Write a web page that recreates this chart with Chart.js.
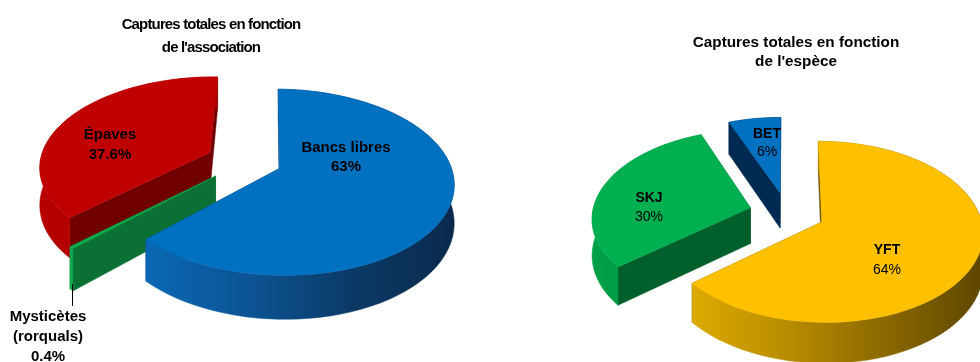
<!DOCTYPE html>
<html>
<head>
<meta charset="utf-8">
<script src="https://cdn.jsdelivr.net/npm/chart.js@4/dist/chart.umd.min.js"></script>
<style>
  html, body { margin: 0; padding: 0; background: #fff; }
  #page { position: relative; width: 980px; height: 362px; overflow: hidden; }
  canvas { position: absolute; top: 0; }
</style>
</head>
<body>
<div id="page">
  <canvas id="assoc" width="558" height="362" style="left:-68px"></canvas>
  <canvas id="espece" width="612" height="362" style="left:490px"></canvas>
</div>
<script>
// values as printed on the charts
const assocLabels = ['Bancs libres', 'Mysticètes\n(rorquals)', 'Épaves'];
const assocValues = [63, 0.4, 37.6];
const especeLabels = ['YFT', 'SKJ', 'BET'];
const especeValues = [64, 30, 6];

const assocColors = ['#0070c0', '#12a84e', '#c00000'];
const especeColors = ['#ffc000', '#00b050', '#0070c0'];

const FONT = '"Liberation Sans", Arial, sans-serif';

// fake 3D: tilt the flat pie and extrude each arc downwards
const pie3d = {
  id: 'pie3d',
  beforeDraw(chart, args, opts) {
    // the left title is set tighter than the right one
    chart.ctx.letterSpacing = opts.titleSpacing;
  },
  beforeDatasetDraw(chart, args, opts) {
    const ctx = chart.ctx;
    const arcs = chart.getDatasetMeta(0).data;
    ctx.letterSpacing = '0px';
    ctx.save();
    ctx.translate(-opts.left, 0);

    const project = (u, v, z) => {
      const s = 1 / (1 - opts.persp * v / opts.radius);
      return [opts.cx + u * s, opts.cy + opts.tilt * v * s + z * s];
    };
    const fillPoly = (pts, fill) => {
      ctx.beginPath();
      pts.forEach((p, i) => (i ? ctx.lineTo(p[0], p[1]) : ctx.moveTo(p[0], p[1])));
      ctx.closePath();
      ctx.fillStyle = fill;
      ctx.fill();
      ctx.strokeStyle = fill;
      ctx.lineWidth = 0.5;
      ctx.stroke();
    };

    opts.order.forEach((i) => {
      const arc = arcs[i];
      const {startAngle, endAngle, outerRadius} = arc.getProps(
          ['startAngle', 'endAngle', 'outerRadius'], true);
      const mid = (startAngle + endAngle) / 2;
      const ou = Math.cos(mid) * arc.options.offset;
      const ov = Math.sin(mid) * arc.options.offset;
      const rim = (a, z) => project(
          ou + Math.cos(a) * outerRadius, ov + Math.sin(a) * outerRadius, z);
      const apex = (z) => project(ou, ov, z);

      const steps = 72;
      const top = [];
      const bottom = [];
      for (let n = 0; n <= steps; n++) {
        const a = startAngle + (endAngle - startAngle) * n / steps;
        top.push(rim(a, 0));
        bottom.push(rim(a, opts.depth));
      }

      // flat side walls
      fillPoly([apex(0), apex(opts.depth), rim(endAngle, opts.depth), rim(endAngle, 0)], opts.inner[i]);
      fillPoly([apex(0), apex(opts.depth), rim(startAngle, opts.depth), rim(startAngle, 0)], opts.inner[i]);

      // curved outer wall
      const xs = top.map((p) => p[0]);
      const grad = ctx.createLinearGradient(Math.min(...xs), 0, Math.max(...xs), 0);
      opts.wall[i].forEach((c, n, all) => grad.addColorStop(n / (all.length - 1), c));
      fillPoly(top.concat(bottom.slice().reverse()), grad);

      // top face
      fillPoly([apex(0)].concat(top), arc.options.backgroundColor);
    });

    // data labels, one line per entry, then the value
    ctx.fillStyle = '#000';
    ctx.textAlign = 'center';
    ctx.textBaseline = 'middle';
    const labels = chart.data.labels;
    const values = chart.data.datasets[0].data;
    opts.spots.forEach((spot, i) => {
      const lines = labels[i].split('\n');
      lines.forEach((t, n) => {
        ctx.font = 'bold ' + spot.size + 'px ' + FONT;
        ctx.fillText(t, spot.x, spot.y + n * spot.gap);
      });
      ctx.font = spot.weight + ' ' + spot.size + 'px ' + FONT;
      ctx.fillText(values[i] + '%', spot.x, spot.y + lines.length * spot.gap);
    });
    if (opts.leader) {
      ctx.strokeStyle = '#000';
      ctx.lineWidth = 1;
      ctx.beginPath();
      ctx.moveTo(opts.leader[0], opts.leader[1]);
      ctx.lineTo(opts.leader[2], opts.leader[3]);
      ctx.stroke();
    }
    ctx.restore();
    return false;
  },
};

const makePie = (id, labels, values, colors, radius, rotation, offset, title, titleTop, titleFont, opts) => new Chart(
    document.getElementById(id),
    {
      type: 'pie',
      data: {
        labels,
        datasets: [{
          data: values,
          backgroundColor: colors,
          borderWidth: 0,
          offset,
        }],
      },
      options: {
        responsive: false,
        animation: false,
        radius,
        rotation,
        layout: {padding: 0},
        plugins: {
          legend: {display: false},
          tooltip: {enabled: false},
          title: {
            display: true,
            text: title,
            color: '#000',
            padding: {top: titleTop, bottom: 0},
            font: titleFont,
          },
          pie3d: opts,
        },
      },
      plugins: [pie3d],
    });

makePie('assoc', assocLabels, assocValues, assocColors, 170, 1.2, [36, 41, 40],
    ['Captures totales en fonction', 'de l\'association'], 13,
    {family: FONT, size: 15, weight: 'bold', lineHeight: 1.55}, {
      titleSpacing: '-0.85px',
      left: -68, cx: 246, cy: 161, tilt: 0.523, persp: 0.145, radius: 170, depth: 37,
      order: [2, 1, 0],
      inner: ['#0a3a66', '#0a7034', '#700000'],
      wall: [
        ['#0a68b4', '#0c5494', '#0b3a66', '#0a2a4c'],
        ['#12a84e', '#12a84e'],
        ['#b80000', '#a00000'],
      ],
      spots: [
        {x: 346, y: 148, gap: 19, size: 15, weight: 'bold'},
        {x: 48, y: 317, gap: 20, size: 15, weight: 'bold'},
        {x: 110, y: 135, gap: 20, size: 15, weight: 'bold'},
      ],
      leader: [72.5, 284, 72.5, 306],
    });

makePie('espece', especeLabels, especeValues, especeColors, 158, 0, 38,
    ['Captures totales en fonction', 'de l\'espèce'], 33,
    {family: FONT, size: 15.3, weight: 'bold', lineHeight: 1.25}, {
      titleSpacing: '0px',
      left: 490, cx: 787, cy: 213, tilt: 0.554, persp: 0.107, radius: 158, depth: 36,
      order: [2, 1, 0],
      inner: ['#6b5000', '#00602b', '#002a52'],
      wall: [
        ['#dcaa00', '#b88c00', '#8a6800', '#5e4600'],
        ['#00a048', '#008a3c'],
        ['#002a52', '#002a52'],
      ],
      spots: [
        {x: 887, y: 250, gap: 20, size: 14, weight: 'normal'},
        {x: 649, y: 198, gap: 19, size: 14, weight: 'normal'},
        {x: 767, y: 134, gap: 18, size: 14, weight: 'normal'},
      ],
    });
</script>
</body>
</html>
